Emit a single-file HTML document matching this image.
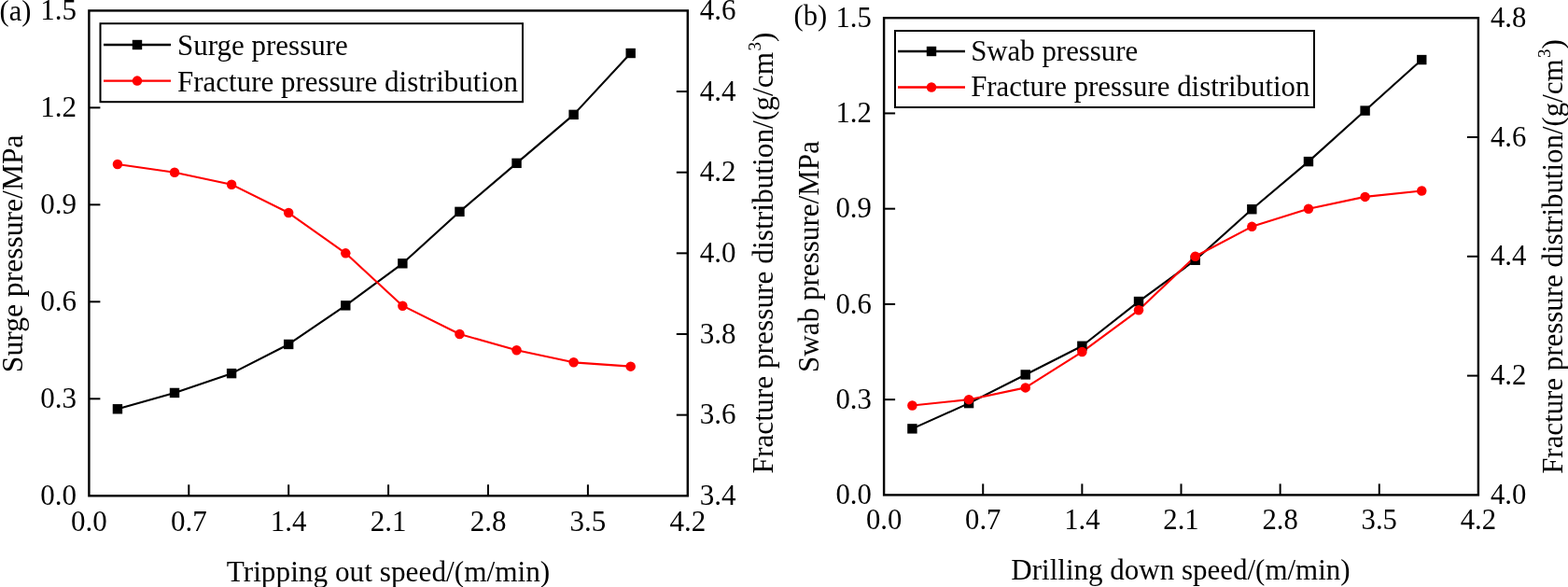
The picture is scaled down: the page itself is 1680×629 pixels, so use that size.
<!DOCTYPE html>
<html><head><meta charset="utf-8"><style>
html,body{margin:0;padding:0;background:#fff;}
svg{display:block;}
text{font-family:'Liberation Serif', 'Times New Roman', serif;fill:#000;}
</style></head><body>
<svg width="1680" height="629" viewBox="0 0 1680 629">
<rect width="1680" height="629" fill="#fff"/>
<rect x="95.4" y="11.4" width="641.4" height="519.9" fill="none" stroke="#000" stroke-width="2.4"/>
<line x1="202.30" y1="531.3" x2="202.30" y2="519.3" stroke="#000" stroke-width="2"/>
<line x1="309.20" y1="531.3" x2="309.20" y2="519.3" stroke="#000" stroke-width="2"/>
<line x1="416.10" y1="531.3" x2="416.10" y2="519.3" stroke="#000" stroke-width="2"/>
<line x1="523.00" y1="531.3" x2="523.00" y2="519.3" stroke="#000" stroke-width="2"/>
<line x1="629.90" y1="531.3" x2="629.90" y2="519.3" stroke="#000" stroke-width="2"/>
<line x1="95.4" y1="427.32" x2="107.4" y2="427.32" stroke="#000" stroke-width="2"/>
<line x1="95.4" y1="323.34" x2="107.4" y2="323.34" stroke="#000" stroke-width="2"/>
<line x1="95.4" y1="219.36" x2="107.4" y2="219.36" stroke="#000" stroke-width="2"/>
<line x1="95.4" y1="115.38" x2="107.4" y2="115.38" stroke="#000" stroke-width="2"/>
<line x1="736.8" y1="444.65" x2="724.8" y2="444.65" stroke="#000" stroke-width="2"/>
<line x1="736.8" y1="358.00" x2="724.8" y2="358.00" stroke="#000" stroke-width="2"/>
<line x1="736.8" y1="271.35" x2="724.8" y2="271.35" stroke="#000" stroke-width="2"/>
<line x1="736.8" y1="184.70" x2="724.8" y2="184.70" stroke="#000" stroke-width="2"/>
<line x1="736.8" y1="98.05" x2="724.8" y2="98.05" stroke="#000" stroke-width="2"/>
<text x="95.40" y="568.6999999999999" text-anchor="middle" font-size="31">0.0</text>
<text x="202.30" y="568.6999999999999" text-anchor="middle" font-size="31">0.7</text>
<text x="309.20" y="568.6999999999999" text-anchor="middle" font-size="31">1.4</text>
<text x="416.10" y="568.6999999999999" text-anchor="middle" font-size="31">2.1</text>
<text x="523.00" y="568.6999999999999" text-anchor="middle" font-size="31">2.8</text>
<text x="629.90" y="568.6999999999999" text-anchor="middle" font-size="31">3.5</text>
<text x="736.80" y="568.6999999999999" text-anchor="middle" font-size="31">4.2</text>
<text x="82.10000000000001" y="540.90" text-anchor="end" font-size="31">0.0</text>
<text x="82.10000000000001" y="436.92" text-anchor="end" font-size="31">0.3</text>
<text x="82.10000000000001" y="332.94" text-anchor="end" font-size="31">0.6</text>
<text x="82.10000000000001" y="228.96" text-anchor="end" font-size="31">0.9</text>
<text x="82.10000000000001" y="124.98" text-anchor="end" font-size="31">1.2</text>
<text x="82.10000000000001" y="21.00" text-anchor="end" font-size="31">1.5</text>
<text x="749.8" y="540.90" font-size="31">3.4</text>
<text x="749.8" y="454.25" font-size="31">3.6</text>
<text x="749.8" y="367.60" font-size="31">3.8</text>
<text x="749.8" y="280.95" font-size="31">4.0</text>
<text x="749.8" y="194.30" font-size="31">4.2</text>
<text x="749.8" y="107.65" font-size="31">4.4</text>
<text x="749.8" y="21.00" font-size="31">4.6</text>
<polyline points="125.94,438.27 187.03,420.94 248.11,400.14 309.20,368.95 370.29,327.36 431.37,282.30 492.46,226.84 553.54,174.85 614.63,122.86 675.71,57.01" fill="none" stroke="#000" stroke-width="2.1" stroke-linejoin="round"/>
<polyline points="125.94,176.03 187.03,184.70 248.11,197.70 309.20,228.03 370.29,271.35 431.37,327.67 492.46,358.00 553.54,375.33 614.63,388.33 675.71,392.66" fill="none" stroke="#ff0000" stroke-width="2.1" stroke-linejoin="round"/>
<rect x="120.74" y="433.07" width="10.4" height="10.4" fill="#000"/>
<rect x="181.83" y="415.74" width="10.4" height="10.4" fill="#000"/>
<rect x="242.91" y="394.94" width="10.4" height="10.4" fill="#000"/>
<rect x="304.00" y="363.75" width="10.4" height="10.4" fill="#000"/>
<rect x="365.09" y="322.16" width="10.4" height="10.4" fill="#000"/>
<rect x="426.17" y="277.10" width="10.4" height="10.4" fill="#000"/>
<rect x="487.26" y="221.64" width="10.4" height="10.4" fill="#000"/>
<rect x="548.34" y="169.65" width="10.4" height="10.4" fill="#000"/>
<rect x="609.43" y="117.66" width="10.4" height="10.4" fill="#000"/>
<rect x="670.51" y="51.81" width="10.4" height="10.4" fill="#000"/>
<circle cx="125.94" cy="176.03" r="5.25" fill="#ff0000"/>
<circle cx="187.03" cy="184.70" r="5.25" fill="#ff0000"/>
<circle cx="248.11" cy="197.70" r="5.25" fill="#ff0000"/>
<circle cx="309.20" cy="228.03" r="5.25" fill="#ff0000"/>
<circle cx="370.29" cy="271.35" r="5.25" fill="#ff0000"/>
<circle cx="431.37" cy="327.67" r="5.25" fill="#ff0000"/>
<circle cx="492.46" cy="358.00" r="5.25" fill="#ff0000"/>
<circle cx="553.54" cy="375.33" r="5.25" fill="#ff0000"/>
<circle cx="614.63" cy="388.33" r="5.25" fill="#ff0000"/>
<circle cx="675.71" cy="392.66" r="5.25" fill="#ff0000"/>
<rect x="107.5" y="25.2" width="452.5" height="84" fill="#fff" stroke="#000" stroke-width="2"/>
<line x1="111" y1="48" x2="183" y2="48" stroke="#000" stroke-width="2.4"/>
<rect x="141.8" y="42.8" width="10.4" height="10.4" fill="#000"/>
<text x="190" y="59" font-size="31">Surge pressure</text>
<line x1="111" y1="86.6" x2="183" y2="86.6" stroke="#ff0000" stroke-width="2.4"/>
<circle cx="147.0" cy="86.6" r="5.25" fill="#ff0000"/>
<text x="190" y="97.6" font-size="31">Fracture pressure distribution</text>
<text x="416" y="622.7" text-anchor="middle" font-size="31.3">Tripping out speed/(m/min)</text>
<text transform="translate(24,271.8) rotate(-90)" text-anchor="middle" font-size="31.6">Surge pressure/MPa</text>
<text transform="translate(827.6,271) rotate(-90)" text-anchor="middle" font-size="31.4">Fracture pressure distribution/(g/cm<tspan dx="1.5" dy="-12.5" font-size="19">3</tspan><tspan dy="12.5">)</tspan></text>
<text x="-0.5" y="21.6" font-size="30.5">(a)</text>
<rect x="947.1" y="19.2" width="636.8000000000001" height="511.2" fill="none" stroke="#000" stroke-width="2.4"/>
<line x1="1053.23" y1="530.4" x2="1053.23" y2="518.4" stroke="#000" stroke-width="2"/>
<line x1="1159.37" y1="530.4" x2="1159.37" y2="518.4" stroke="#000" stroke-width="2"/>
<line x1="1265.50" y1="530.4" x2="1265.50" y2="518.4" stroke="#000" stroke-width="2"/>
<line x1="1371.63" y1="530.4" x2="1371.63" y2="518.4" stroke="#000" stroke-width="2"/>
<line x1="1477.77" y1="530.4" x2="1477.77" y2="518.4" stroke="#000" stroke-width="2"/>
<line x1="947.1" y1="428.16" x2="959.1" y2="428.16" stroke="#000" stroke-width="2"/>
<line x1="947.1" y1="325.92" x2="959.1" y2="325.92" stroke="#000" stroke-width="2"/>
<line x1="947.1" y1="223.68" x2="959.1" y2="223.68" stroke="#000" stroke-width="2"/>
<line x1="947.1" y1="121.44" x2="959.1" y2="121.44" stroke="#000" stroke-width="2"/>
<line x1="1583.9" y1="402.60" x2="1571.9" y2="402.60" stroke="#000" stroke-width="2"/>
<line x1="1583.9" y1="274.80" x2="1571.9" y2="274.80" stroke="#000" stroke-width="2"/>
<line x1="1583.9" y1="147.00" x2="1571.9" y2="147.00" stroke="#000" stroke-width="2"/>
<text x="947.10" y="566.9" text-anchor="middle" font-size="30.7">0.0</text>
<text x="1053.23" y="566.9" text-anchor="middle" font-size="30.7">0.7</text>
<text x="1159.37" y="566.9" text-anchor="middle" font-size="30.7">1.4</text>
<text x="1265.50" y="566.9" text-anchor="middle" font-size="30.7">2.1</text>
<text x="1371.63" y="566.9" text-anchor="middle" font-size="30.7">2.8</text>
<text x="1477.77" y="566.9" text-anchor="middle" font-size="30.7">3.5</text>
<text x="1583.90" y="566.9" text-anchor="middle" font-size="30.7">4.2</text>
<text x="933.8000000000001" y="540.00" text-anchor="end" font-size="30.7">0.0</text>
<text x="933.8000000000001" y="437.76" text-anchor="end" font-size="30.7">0.3</text>
<text x="933.8000000000001" y="335.52" text-anchor="end" font-size="30.7">0.6</text>
<text x="933.8000000000001" y="233.28" text-anchor="end" font-size="30.7">0.9</text>
<text x="933.8000000000001" y="131.04" text-anchor="end" font-size="30.7">1.2</text>
<text x="933.8000000000001" y="28.80" text-anchor="end" font-size="30.7">1.5</text>
<text x="1596.9" y="540.00" font-size="30.7">4.0</text>
<text x="1596.9" y="412.20" font-size="30.7">4.2</text>
<text x="1596.9" y="284.40" font-size="30.7">4.4</text>
<text x="1596.9" y="156.60" font-size="30.7">4.6</text>
<text x="1596.9" y="28.80" font-size="30.7">4.8</text>
<polyline points="977.42,459.38 1038.07,432.12 1098.72,401.45 1159.37,370.77 1220.01,323.06 1280.66,278.76 1341.31,224.23 1401.96,173.11 1462.60,118.58 1523.25,64.05" fill="none" stroke="#000" stroke-width="2.1" stroke-linejoin="round"/>
<polyline points="977.42,434.55 1038.07,428.16 1098.72,415.38 1159.37,377.04 1220.01,332.31 1280.66,274.80 1341.31,242.85 1401.96,223.68 1462.60,210.90 1523.25,204.51" fill="none" stroke="#ff0000" stroke-width="2.1" stroke-linejoin="round"/>
<rect x="972.22" y="454.18" width="10.4" height="10.4" fill="#000"/>
<rect x="1032.87" y="426.92" width="10.4" height="10.4" fill="#000"/>
<rect x="1093.52" y="396.25" width="10.4" height="10.4" fill="#000"/>
<rect x="1154.17" y="365.57" width="10.4" height="10.4" fill="#000"/>
<rect x="1214.81" y="317.86" width="10.4" height="10.4" fill="#000"/>
<rect x="1275.46" y="273.56" width="10.4" height="10.4" fill="#000"/>
<rect x="1336.11" y="219.03" width="10.4" height="10.4" fill="#000"/>
<rect x="1396.76" y="167.91" width="10.4" height="10.4" fill="#000"/>
<rect x="1457.40" y="113.38" width="10.4" height="10.4" fill="#000"/>
<rect x="1518.05" y="58.85" width="10.4" height="10.4" fill="#000"/>
<circle cx="977.42" cy="434.55" r="5.25" fill="#ff0000"/>
<circle cx="1038.07" cy="428.16" r="5.25" fill="#ff0000"/>
<circle cx="1098.72" cy="415.38" r="5.25" fill="#ff0000"/>
<circle cx="1159.37" cy="377.04" r="5.25" fill="#ff0000"/>
<circle cx="1220.01" cy="332.31" r="5.25" fill="#ff0000"/>
<circle cx="1280.66" cy="274.80" r="5.25" fill="#ff0000"/>
<circle cx="1341.31" cy="242.85" r="5.25" fill="#ff0000"/>
<circle cx="1401.96" cy="223.68" r="5.25" fill="#ff0000"/>
<circle cx="1462.60" cy="210.90" r="5.25" fill="#ff0000"/>
<circle cx="1523.25" cy="204.51" r="5.25" fill="#ff0000"/>
<rect x="959" y="33" width="449" height="82" fill="#fff" stroke="#000" stroke-width="2"/>
<line x1="962" y1="55" x2="1034" y2="55" stroke="#000" stroke-width="2.4"/>
<rect x="992.8" y="49.8" width="10.4" height="10.4" fill="#000"/>
<text x="1040.2" y="64.8" font-size="30.85">Swab pressure</text>
<line x1="962" y1="93.5" x2="1034" y2="93.5" stroke="#ff0000" stroke-width="2.4"/>
<circle cx="998.0" cy="93.5" r="5.25" fill="#ff0000"/>
<text x="1040.2" y="103.3" font-size="30.85">Fracture pressure distribution</text>
<text x="1265" y="621" text-anchor="middle" font-size="31.0">Drilling down speed/(m/min)</text>
<text transform="translate(876.6,275) rotate(-90)" text-anchor="middle" font-size="31.1">Swab pressure/MPa</text>
<text transform="translate(1673.5,275) rotate(-90)" text-anchor="middle" font-size="30.9">Fracture pressure distribution/(g/cm<tspan dx="1.5" dy="-12.5" font-size="19">3</tspan><tspan dy="12.5">)</tspan></text>
<text x="850.5" y="27" font-size="30.5">(b)</text>
</svg>
</body></html>
